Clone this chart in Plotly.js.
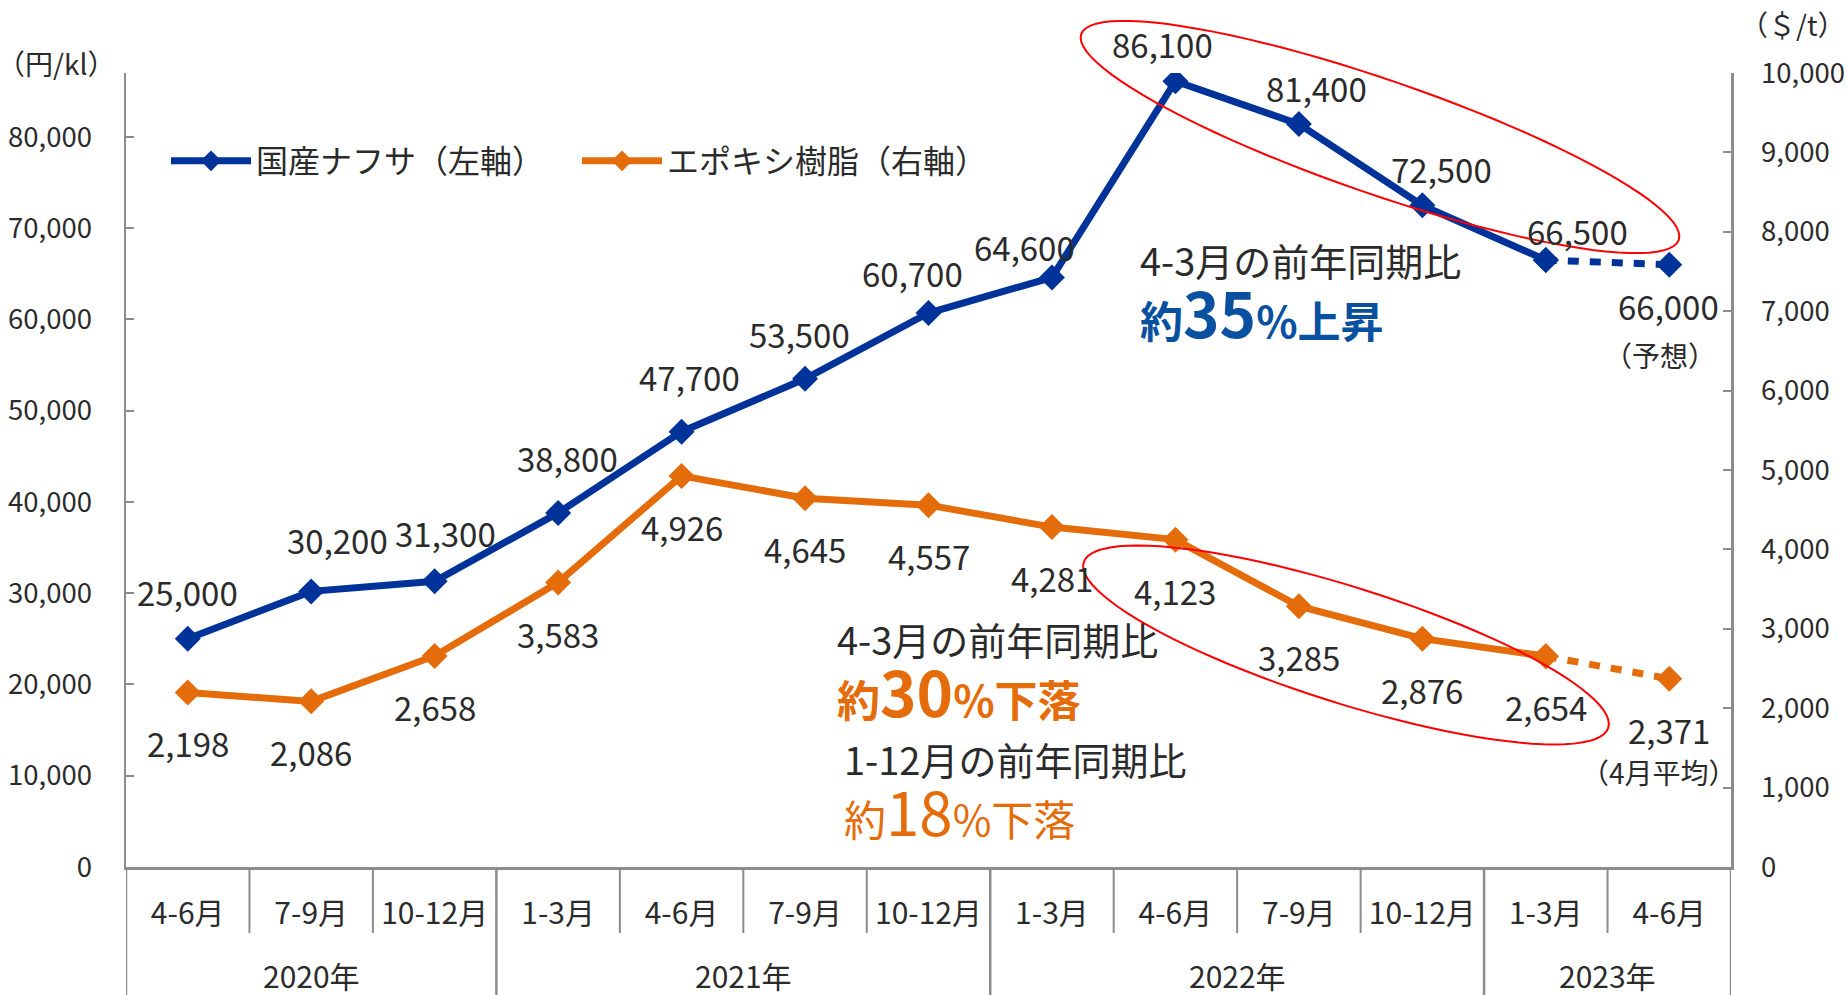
<!DOCTYPE html>
<html><head><meta charset="utf-8">
<script src="https://cdn.plot.ly/plotly-3.0.1.min.js"></script>
<style>html,body{margin:0;padding:0;background:#fff}#chart{width:1847px;height:995px}</style>
</head><body><div id="chart"></div>
<script>
// ---- data ----
const quarters = ['4-6月','7-9月','10-12月','1-3月','4-6月','7-9月','10-12月','1-3月','4-6月','7-9月','10-12月','1-3月','4-6月'];
const years = ['2020年','2021年','2022年','2023年'];
const quartersPerYear = [3, 4, 4, 2];
const naphtha = [25000, 30200, 31300, 38800, 47700, 53500, 60700, 64600, 86100, 81400, 72500, 66500, 66000];
const epoxy = [2198, 2086, 2658, 3583, 4926, 4645, 4557, 4281, 4123, 3285, 2876, 2654, 2371];
const naphthaName = '国産ナフサ（左軸）';
const epoxyName = 'エポキシ樹脂（右軸）';
const naphthaNote = '（予想）';
const epoxyNote = '（4月平均）';
const leftUnit = '（円/kl）';
const rightUnit = '（＄/t）';

// ---- style / geometry ----
const W = 1847, H = 995, ML = 126, MR = 116, MT = 73, MB = 128;
const PW = W - ML - MR, PH = H - MT - MB;
const px2x = p => (p - ML) / PW;
const px2y = p => (H - MB - p) / PH;
const BLUE = '#003399', ORANGE = '#E46C0A', AXIS = '#8c8c8c', TXT = '#2b2b2b';
const FONT = '"Noto Sans CJK JP", "Noto Sans", sans-serif';
const naphthaShift = [[0,47],[26,51],[11,48],[9,55],[8,55],[-6,45],[-16,40],[-27,30],[-13,37],[18,36],[19,36],[32,29],[-1,-41]];
const epoxyShift = [0,51];
const nSolid = quarters.length - 1; // last point is forecast / partial

const idx = quarters.map((_, i) => i);
const fmt = v => v.toLocaleString('en-US');

const lineW = 7, mSize = 20, dashPat = '11px,11px';
const traces = [
  {x: idx.slice(0, nSolid), y: naphtha.slice(0, nSolid), name: naphthaName, yaxis: 'y', mode: 'lines+markers',
   line: {color: BLUE, width: lineW}, marker: {symbol: 'diamond', size: mSize, color: BLUE}, hoverinfo: 'skip'},
  {x: idx.slice(nSolid - 1), y: naphtha.slice(nSolid - 1), yaxis: 'y', mode: 'lines+markers', showlegend: false,
   line: {color: BLUE, width: lineW, dash: dashPat}, marker: {symbol: 'diamond', size: mSize, color: BLUE}, hoverinfo: 'skip'},
  {x: idx.slice(0, nSolid), y: epoxy.slice(0, nSolid), name: epoxyName, yaxis: 'y2', mode: 'lines+markers',
   line: {color: ORANGE, width: lineW}, marker: {symbol: 'diamond', size: mSize, color: ORANGE}, hoverinfo: 'skip'},
  {x: idx.slice(nSolid - 1), y: epoxy.slice(nSolid - 1), yaxis: 'y2', mode: 'lines+markers', showlegend: false,
   line: {color: ORANGE, width: lineW, dash: dashPat}, marker: {symbol: 'diamond', size: mSize, color: ORANGE}, hoverinfo: 'skip'}
];

const annotations = [];
const labelFont = {family: FONT, size: 33, color: TXT};
naphtha.forEach((v, i) => annotations.push({x: i, y: v, xref: 'x', yref: 'y', text: fmt(v), showarrow: false,
  xshift: naphthaShift[i][0], yshift: naphthaShift[i][1], font: labelFont}));
epoxy.forEach((v, i) => annotations.push({x: i, y: v, xref: 'x', yref: 'y2', text: fmt(v), showarrow: false,
  xshift: epoxyShift[0], yshift: -epoxyShift[1], font: labelFont}));
const last = quarters.length - 1;
annotations.push({x: last, y: naphtha[last], xref: 'x', yref: 'y', text: naphthaNote, showarrow: false, xshift: -9, yshift: -90,
  font: {family: FONT, size: 28, color: TXT}});
annotations.push({x: last, y: epoxy[last], xref: 'x', yref: 'y2', text: epoxyNote, showarrow: false, xshift: -10, yshift: -93,
  font: {family: FONT, size: 28, color: TXT}});

// year group labels
let start = 0;
years.forEach((yr, k) => {
  const n = quartersPerYear[k];
  annotations.push({x: start + (n - 1) / 2, y: px2y(975), xref: 'x', yref: 'paper', text: yr, showarrow: false,
    yanchor: 'middle', font: {family: FONT, size: 30, color: TXT}});
  start += n;
});

// units
annotations.push({x: px2x(56), y: px2y(63), xref: 'paper', yref: 'paper', text: leftUnit, showarrow: false,
  xanchor: 'center', yanchor: 'middle', font: {family: FONT, size: 28, color: TXT}});
annotations.push({x: px2x(1793), y: px2y(24), xref: 'paper', yref: 'paper', text: rightUnit, showarrow: false,
  xanchor: 'center', yanchor: 'middle', font: {family: FONT, size: 28, color: TXT}});

// comment texts
const note = (xp, yp, text, size, color) => annotations.push({x: px2x(xp), y: px2y(yp), xref: 'paper', yref: 'paper',
  text: text, showarrow: false, xanchor: 'left', yanchor: 'middle', font: {family: FONT, size: size, color: color}});
note(1138, 259, '4-3月の前年同期比', 38, TXT);
note(1138, 311, '<b>約<span style="font-size:62px">35</span>%上昇</b>', 43, '#0A50A1');
note(835, 638, '4-3月の前年同期比', 38, TXT);
note(835, 690, '<b>約<span style="font-size:62px">30</span>%下落</b>', 43, ORANGE);
note(842, 758, '1-12月の前年同期比', 38, TXT);
note(842, 809, '約<span style="font-size:60px">18</span>%下落', 42, ORANGE);

// shapes: category dividers, year dividers, ellipses
const shapes = [];
const yearBounds = [-0.5];
quartersPerYear.reduce((acc, n) => { yearBounds.push(acc + n - 0.5); return acc + n; }, 0);
for (let i = 0; i < quarters.length - 1; i++) {
  const b = i + 0.5;
  if (yearBounds.includes(b)) continue;
  shapes.push({type: 'line', xref: 'x', yref: 'paper', x0: b, x1: b, y0: 0, y1: px2y(933), line: {color: AXIS, width: 2}});
}
yearBounds.forEach(b => shapes.push({type: 'line', xref: 'x', yref: 'paper', x0: b, x1: b, y0: 0, y1: px2y(H + 2),
  line: {color: AXIS, width: 2.5}}));

function ellipse(cx, cy, a, b, deg) {
  const t = deg * Math.PI / 180;
  let d = '';
  for (let k = 0; k <= 96; k++) {
    const u = 2 * Math.PI * k / 96;
    const ex = a * Math.cos(u), ey = b * Math.sin(u);
    const X = cx + ex * Math.cos(t) - ey * Math.sin(t);
    const Y = cy + ex * Math.sin(t) + ey * Math.cos(t);
    d += (k === 0 ? 'M' : 'L') + px2x(X).toFixed(5) + ',' + px2y(Y).toFixed(5);
  }
  return d + 'Z';
}
shapes.push({type: 'path', xref: 'paper', yref: 'paper', path: ellipse(1380, 137, 316, 57, 19), line: {color: '#FF0000', width: 2}, layer: 'above'});
shapes.push({type: 'path', xref: 'paper', yref: 'paper', path: ellipse(1346, 645, 275, 58, 17.5), line: {color: '#FF0000', width: 2}, layer: 'above'});

const tickFont = {family: FONT, size: 27.5, color: TXT};
const layout = {
  width: W, height: H, margin: {l: ML, r: MR, t: MT, b: MB}, paper_bgcolor: '#fff', plot_bgcolor: '#fff',
  showlegend: true,
  legend: {orientation: 'h', x: px2x(166), y: px2y(161), xanchor: 'left', yanchor: 'middle', font: {family: FONT, size: 32, color: TXT},
    bgcolor: 'rgba(0,0,0,0)', itemwidth: 80, entrywidth: 316, traceorder: 'normal'},
  xaxis: {range: [-0.5, quarters.length - 0.5], tickvals: idx, ticktext: quarters, showgrid: false, zeroline: false,
    showline: true, linecolor: AXIS, linewidth: 2.5, ticks: '', tickfont: {family: FONT, size: 30, color: TXT}, ticklabelstandoff: 18, fixedrange: true},
  yaxis: {range: [0, 87000], dtick: 10000, tickformat: ',d', showgrid: false, zeroline: false, showline: true, linecolor: AXIS, linewidth: 2.5,
    ticks: 'inside', ticklen: 8, tickwidth: 2, tickcolor: AXIS, tickfont: tickFont, ticklabelstandoff: 26},
  yaxis2: {range: [0, 10000], dtick: 1000, tickformat: ',d', overlaying: 'y', side: 'right', showgrid: false, zeroline: false, showline: true,
    linecolor: AXIS, linewidth: 2.5, ticks: 'inside', ticklen: 8, tickwidth: 2, tickcolor: AXIS, tickfont: tickFont, ticklabelstandoff: 22},
  annotations: annotations, shapes: shapes, hovermode: false
};
Plotly.newPlot('chart', traces, layout, {displayModeBar: false, staticPlot: true});
</script></body></html>
